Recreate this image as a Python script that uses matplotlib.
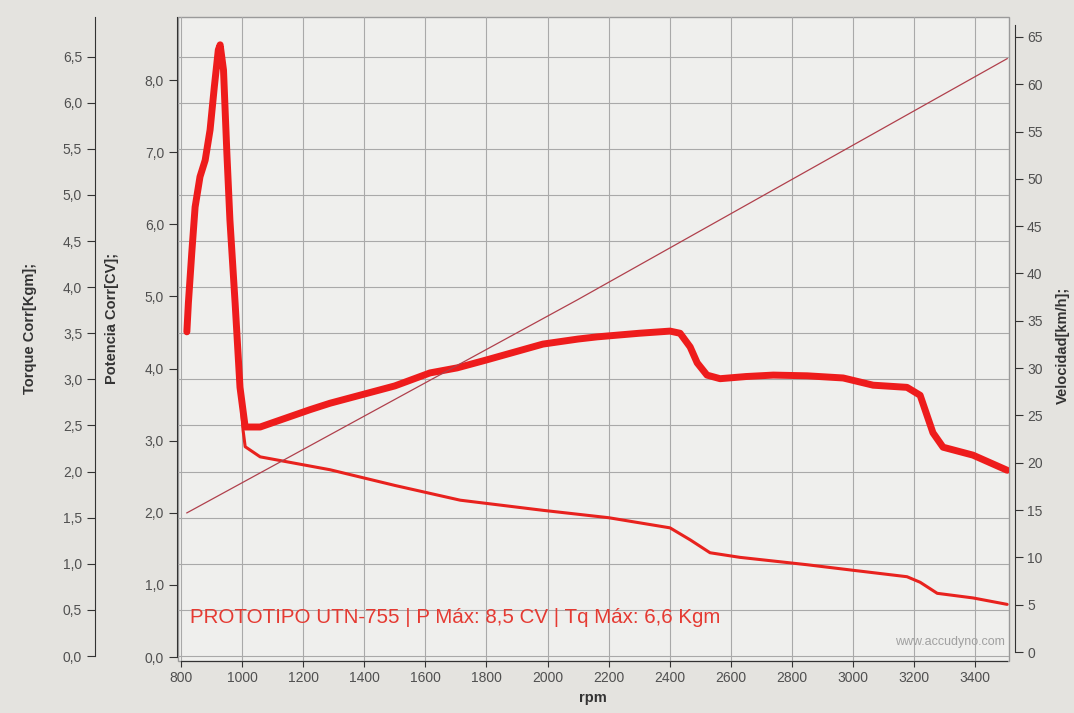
import matplotlib.pyplot as plt
from matplotlib.patches import Rectangle
from matplotlib.ticker import FuncFormatter

plt.rcParams['font.family'] = ['Liberation Sans', 'DejaVu Sans']

rpm_pot = [819, 824, 835, 846, 862, 879, 895, 909, 922, 928, 939, 950, 960,
           977, 993, 1010, 1059, 1222, 1288, 1500, 1615, 1704, 1800, 1985,
           2100, 2162, 2300, 2401, 2434, 2467, 2490, 2522, 2565, 2650, 2739,
           2850, 2968, 3066, 3177, 3220, 3262, 3295, 3393, 3505]
pot_cv = [4.51, 4.91, 5.60, 6.24, 6.66, 6.89, 7.31, 7.91, 8.42, 8.49, 8.14,
          6.99, 6.06, 4.91, 3.74, 3.19, 3.19, 3.43, 3.52, 3.76, 3.94, 4.01,
          4.12, 4.34, 4.41, 4.44, 4.49, 4.52, 4.49, 4.30, 4.08, 3.91, 3.86,
          3.89, 3.91, 3.90, 3.87, 3.77, 3.74, 3.63, 3.11, 2.91, 2.80, 2.59]

# Torque corregido (Kgm)
rpm_tq = [819, 824, 835, 846, 862, 879, 895, 909, 922, 928, 939, 950, 960,
          977, 993, 1003, 1010, 1059, 1288, 1500, 1714, 1985, 2200, 2401,
          2467, 2532, 2630, 2850, 3000, 3177, 3220, 3276, 3393, 3505]
tq_kgm = [3.52, 3.83, 4.37, 4.87, 5.20, 5.38, 5.70, 6.17, 6.57, 6.60, 6.36,
          5.46, 4.73, 3.83, 2.92, 2.45, 2.27, 2.16, 2.02, 1.85, 1.69, 1.58,
          1.50, 1.39, 1.26, 1.12, 1.07, 0.99, 0.93, 0.86, 0.80, 0.68, 0.63,
          0.56]

# Velocidad (km/h)
rpm_vel = [819, 2097, 3505]
vel_kmh = [14.7, 37.2, 62.7]

rpm_ticks = [800, 1000, 1200, 1400, 1600, 1800, 2000, 2200, 2400, 2600,
             2800, 3000, 3200, 3400]
tq_ticks = [0.0, 0.5, 1.0, 1.5, 2.0, 2.5, 3.0, 3.5, 4.0, 4.5, 5.0, 5.5,
            6.0, 6.5]
pot_ticks = [0.0, 1.0, 2.0, 3.0, 4.0, 5.0, 6.0, 7.0, 8.0]
vel_ticks = [0, 5, 10, 15, 20, 25, 30, 35, 40, 45, 50, 55, 60, 65]

titulo = 'PROTOTIPO UTN-755 | P Máx: 8,5 CV | Tq Máx: 6,6 Kgm'

W, H = 1074, 713
fig = plt.figure(figsize=(W / 100, H / 100), dpi=100, facecolor='#e4e3df')


def px_rect(l, t, r, b):
    return [l / W, 1 - b / H, (r - l) / W, (b - t) / H]


gris = '#505050'
coma = FuncFormatter(lambda v, p: f'{v:.1f}'.replace('.', ','))

ax_tq = fig.add_axes(px_rect(178, 17, 1009, 661))
ax_tq.set_facecolor('#efefed')
ax_pw = ax_tq.twinx()
ax_vl = ax_tq.twinx()

ax_tq.set_xlim(790, 3511)
ax_tq.set_ylim(-0.054, 6.93)
ax_pw.set_ylim(-0.055, 8.876)
ax_vl.set_ylim(-0.95, 67.1)

# grilla y marco
ax_tq.set_axisbelow(True)
ax_tq.grid(True, color='#a9a9a9', lw=0.8)
ax_tq.add_patch(Rectangle((0, 0), 1, 1, transform=ax_tq.transAxes,
                          fill=False, edgecolor='#9a9a9a', lw=1.0,
                          clip_on=False, zorder=0.5))

# eje torque (izquierda, afuera) y eje rpm
for s in ['top', 'right']:
    ax_tq.spines[s].set_visible(False)
ax_tq.spines['left'].set_position(('outward', 60))
ax_tq.spines['left'].set_bounds(0, 6.93)
ax_tq.spines['bottom'].set_bounds(800, 3505)
for s in ['left', 'bottom']:
    ax_tq.spines[s].set_color('#333333')
ax_tq.set_yticks(tq_ticks)
ax_tq.yaxis.set_major_formatter(coma)
ax_tq.set_xticks(rpm_ticks)
ax_tq.tick_params(axis='y', colors='#333333', labelcolor=gris,
                  labelsize=10, length=6, direction='out', pad=3)
ax_tq.tick_params(axis='x', colors='#333333', labelcolor=gris,
                  labelsize=10, length=4, direction='out', pad=3)

# eje potencia (izquierda, junto al grafico)
for s in ['top', 'right', 'bottom']:
    ax_pw.spines[s].set_visible(False)
ax_pw.spines['left'].set_visible(True)
ax_pw.spines['left'].set_position(('outward', 1))
ax_pw.spines['left'].set_bounds(0, 8.876)
ax_pw.spines['left'].set_color('#333333')
ax_pw.yaxis.set_ticks_position('left')
ax_pw.yaxis.set_label_position('left')
ax_pw.set_yticks(pot_ticks)
ax_pw.yaxis.set_major_formatter(coma)
ax_pw.tick_params(axis='y', colors='#333333', labelcolor=gris,
                  labelsize=10, length=6, pad=3)

# eje velocidad (derecha)
for s in ['top', 'left', 'bottom']:
    ax_vl.spines[s].set_visible(False)
ax_vl.spines['right'].set_position(('outward', 4))
ax_vl.spines['right'].set_bounds(0, 66.3)
ax_vl.spines['right'].set_color('#333333')
ax_vl.set_yticks(vel_ticks)
ax_vl.tick_params(axis='y', colors='#333333', labelcolor=gris,
                  labelsize=10, length=6, pad=3)

# curvas
ax_vl.plot(rpm_vel, vel_kmh, color='#b0404c', lw=0.9)
ax_tq.plot(rpm_tq, tq_kgm, color='#e8221e', lw=2.2, solid_capstyle='round')
ax_pw.plot(rpm_pot, pot_cv, color='#ee1c1c', lw=5.0,
           solid_capstyle='round', solid_joinstyle='round')

# textos
ax_tq.text(0.0144, 0.067, titulo, transform=ax_tq.transAxes, color='#e53a32',
           fontsize=14.8, va='center', ha='left')
ax_tq.text(0.995, 0.03, 'www.accudyno.com', transform=ax_tq.transAxes,
           color='#a0a0a0', fontsize=9, ha='right', va='center')

fig.text(30 / W, 1 - 328 / H, 'Torque Corr[Kgm];', rotation=90,
         fontsize=10.5, fontweight='bold', color='#333333',
         ha='center', va='center')
fig.text(112 / W, 1 - 318 / H, 'Potencia Corr[CV];', rotation=90,
         fontsize=10.5, fontweight='bold', color='#333333',
         ha='center', va='center')
fig.text(1063 / W, 1 - 345 / H, 'Velocidad[km/h];', rotation=90,
         fontsize=10.5, fontweight='bold', color='#333333',
         ha='center', va='center')
fig.text(593 / W, 1 - 698 / H, 'rpm', fontsize=10.5, fontweight='bold',
         color='#333333', ha='center', va='center')

fig.savefig('out.png', dpi=100, facecolor=fig.get_facecolor())
